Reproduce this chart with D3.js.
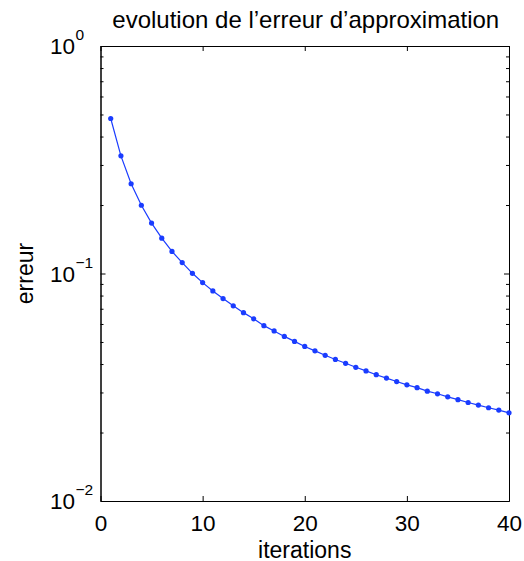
<!DOCTYPE html>
<html><head><meta charset="utf-8">
<script src="https://cdn.jsdelivr.net/npm/d3@7"></script>
<style>
body{margin:0;background:#fff;}
text{font-family:"Liberation Sans",Arial,Helvetica,sans-serif;fill:#000;}
</style></head>
<body>
<svg id="c" width="524" height="561"></svg>
<script>
const iterations = d3.range(1, 41);
const erreur = [0.480,0.329,0.248,0.1995,0.1666,0.143,0.125,0.1117,0.1002,0.0912,
0.0838,0.0776,0.0721,0.0673,0.0632,0.0590,0.0559,0.0529,0.0503,0.0478,
0.0457,0.0437,0.0419,0.0403,0.0387,0.0373,0.0359,0.0347,0.0335,0.0324,
0.0315,0.0304,0.0296,0.0287,0.0279,0.0271,0.0264,0.0257,0.0251,0.0244];
const xTicks = [0,10,20,30,40];
const yTicks = [1e-2,1e-1,1];
const yExp = ["\u22122","\u22121","0"];
const yMinor = [];
[1e-2,1e-1].forEach(b=>{for(let k=2;k<=9;k++) yMinor.push(b*k);});
const title = "evolution de l\u2019erreur d\u2019approximation";
const xLabel = "iterations";
const yLabel = "erreur";

const L=100.5, R=509, T=46, B=501, FS=22.5, FT=24, FL=23;
const svg = d3.select("#c");
const x = d3.scaleLinear().domain([0,40]).range([L,R]);
const y = d3.scaleLog().domain([1e-2,1]).range([B,T]);

function style(g){ g.selectAll("path,line").attr("stroke","#000").attr("stroke-width",1); g.selectAll("text").remove(); }

// minor ticks
svg.append("g").attr("transform",`translate(${L},0)`).call(d3.axisLeft(y).tickValues(yMinor).tickSizeInner(-3).tickSizeOuter(0).tickFormat("")).call(style);
svg.append("g").attr("transform",`translate(${R},0)`).call(d3.axisRight(y).tickValues(yMinor).tickSizeInner(-3).tickSizeOuter(0).tickFormat("")).call(style);
// major
svg.append("g").attr("transform",`translate(${L},0)`).call(d3.axisLeft(y).tickValues(yTicks).tickSizeInner(-5).tickSizeOuter(0).tickFormat("")).call(style);
svg.append("g").attr("transform",`translate(${R},0)`).call(d3.axisRight(y).tickValues(yTicks).tickSizeInner(-5).tickSizeOuter(0).tickFormat("")).call(style);
svg.append("g").attr("transform",`translate(0,${T})`).call(d3.axisTop(x).tickValues(xTicks).tickSizeInner(-5).tickSizeOuter(0).tickFormat("")).call(style);
const xb = svg.append("g").attr("transform",`translate(0,${B})`).call(d3.axisBottom(x).tickValues(xTicks).tickSizeInner(-5).tickSizeOuter(0));
xb.selectAll("path,line").attr("stroke","#000").attr("stroke-width",1);
xb.selectAll("text").attr("y",29.5).attr("dy",null).attr("font-size",FS).attr("fill","#000");

// y labels
yTicks.forEach((v,i)=>{
  const t = svg.append("text").attr("y",y(v)+8).attr("font-size",FS);
  t.append("tspan").attr("x",75).attr("text-anchor","end").text("10");
  svg.append("text").attr("x",75.5).attr("y",y(v)-6).attr("font-size",15.5).text(yExp[i]);
});

// line + points
const line = d3.line().x((d,i)=>x(iterations[i])).y(d=>y(d));
svg.append("path").datum(erreur).attr("d",line).attr("fill","none").attr("stroke","#1a3cff").attr("stroke-width",1.2);
svg.selectAll("circle").data(erreur).join("circle")
  .attr("cx",(d,i)=>x(iterations[i])).attr("cy",d=>y(d)).attr("r",2.6).attr("fill","#1a3cff");

svg.append("text").attr("x",(L+R)/2+1).attr("y",28).attr("text-anchor","middle").attr("font-size",FT).text(title);
svg.append("text").attr("x",(L+R)/2).attr("y",557.5).attr("text-anchor","middle").attr("font-size",FL).text(xLabel);
svg.append("text").attr("transform",`translate(33,${(T+B)/2}) rotate(-90)`).attr("text-anchor","middle").attr("font-size",FL).text(yLabel);
</script>
</body></html>
